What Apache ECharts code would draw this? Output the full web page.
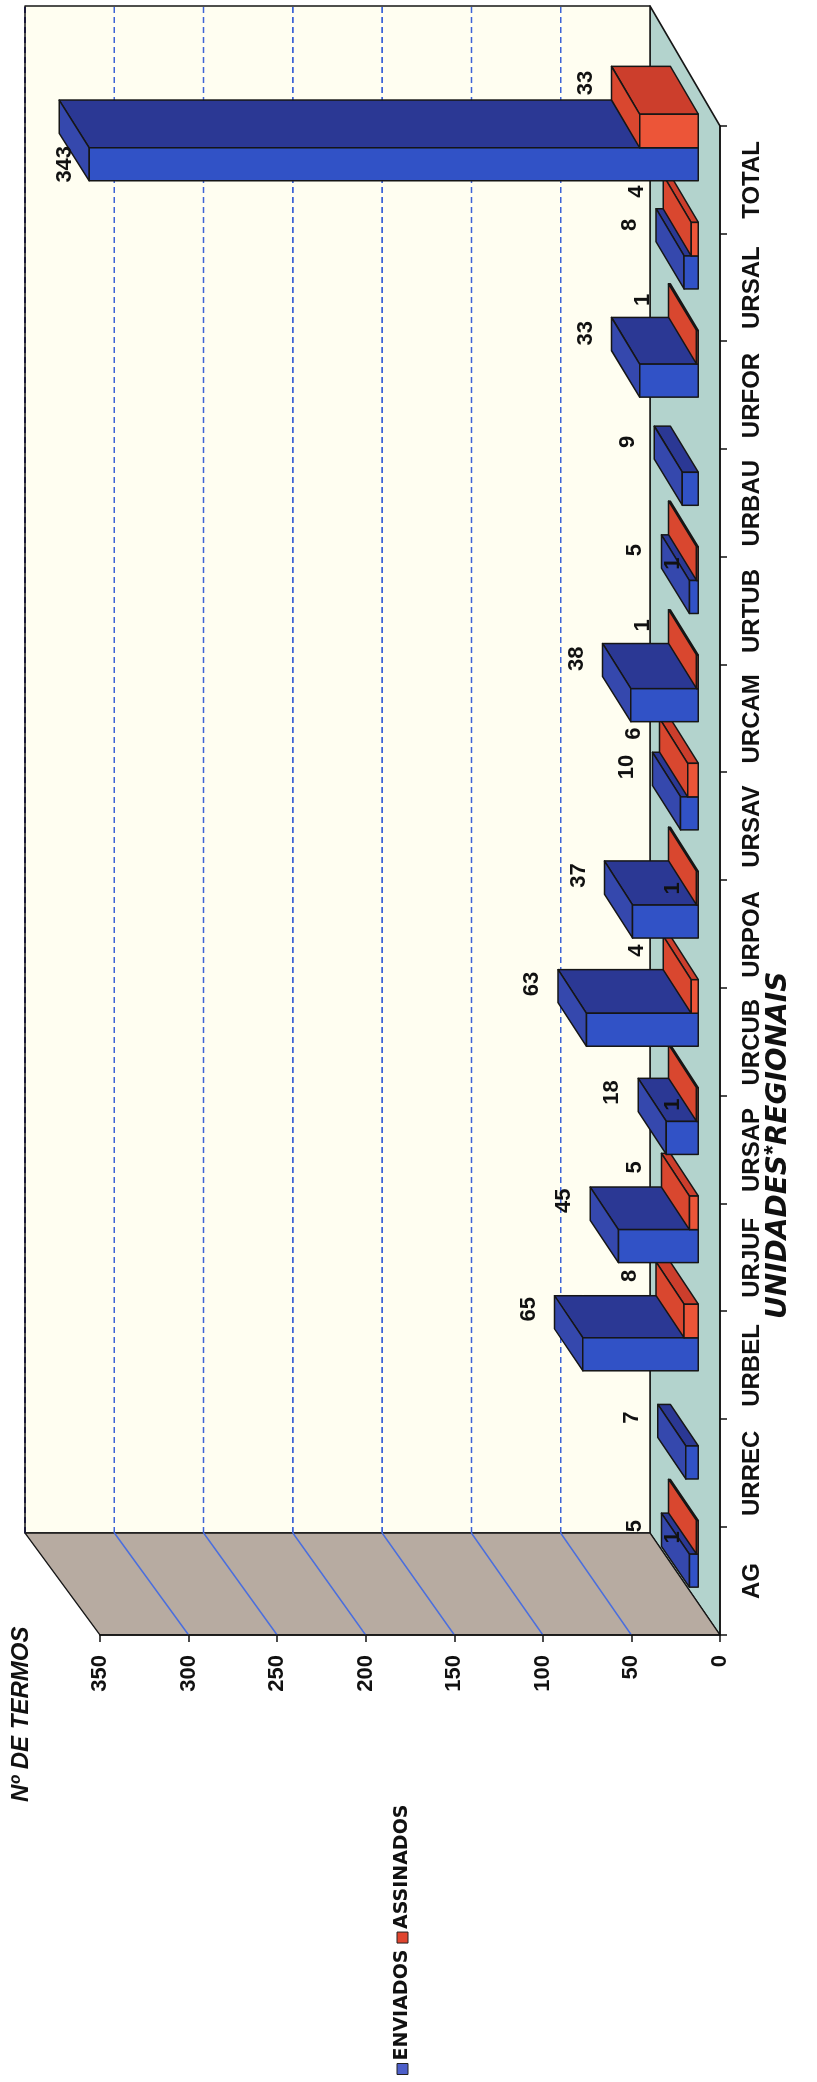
<!DOCTYPE html>
<html>
<head>
<meta charset="utf-8">
<script src="https://cdn.jsdelivr.net/npm/echarts@6.0.0/dist/echarts.min.js"></script>
<style>
  html, body { margin: 0; padding: 0; background: #ffffff; width: 817px; height: 2082px; overflow: hidden; }
  /* the chart is laid out landscape and turned a quarter turn counter-clockwise */
  #chart {
    position: absolute; left: 0; top: 0;
    width: 2082px; height: 817px;
    transform-origin: 0 0;
    transform: translate(0, 2082px) rotate(-90deg);
  }
</style>
</head>
<body>
<div id="chart"></div>
<script>
// ---- data ----
const CATEGORIES = ['AG', 'URREC', 'URBEL', 'URJUF', 'URSAP\n*', 'URCUB', 'URPOA',
                    'URSAV', 'URCAM', 'URTUB', 'URBAU', 'URFOR', 'URSAL', 'TOTAL'];
const ENVIADOS  = [5, 7, 65, 45, 18, 63, 37, 10, 38, 5, 9, 33, 8, 343];
const ASSINADOS = [1, null, 8, 5, 1, 4, 1, 6, 1, 1, null, 1, 4, 33];
const VALUE_TICKS = [0, 50, 100, 150, 200, 250, 300, 350];
const SERIES_NAMES = ['ENVIADOS', 'ASSINADOS'];
// units whose ASSINADOS label sits at the front edge of its bar
const FRONT_LABEL_UNITS = ['AG', 'URSAP\n*', 'URPOA', 'URTUB'];

// ---- 3D look ----
// back plane = front plane shifted by these offsets (slight perspective left→right, bottom→top)
const DEPTH = { dxLeft: 102, dxRight: 120, dyBottom: -70, dyTop: -75 };
const BAR_T1 = 0.31;          // depth of the bars' front faces
const BAR_T2 = 0.71;          // depth of the bars' back faces
const BAR_SLOTS = [0.15, 0.455, 0.765];   // band fractions: blue slot0..slot1, red slot1..slot2
const FACES = [
  { front: '#3152c6', top: '#3548ad', side: '#2b3894' },
  { front: '#ec5538', top: '#d9472f', side: '#cc3e2c' }
];
const EDGE = '#161616';
const FONT = '"Liberation Sans", Arial, sans-serif';
const WIDE_FONT = '"DejaVu Sans", Verdana, sans-serif';

function project(cs, x, y, t) {
  const fx = (x - cs.x) / cs.width;
  const fy = (cs.y + cs.height - y) / cs.height;
  const dx = DEPTH.dxLeft + (DEPTH.dxRight - DEPTH.dxLeft) * fx;
  const dy = DEPTH.dyBottom + (DEPTH.dyTop - DEPTH.dyBottom) * fy;
  return [x + t * dx, y + t * dy];
}

function poly(points, fill, z2, stroke, lineWidth) {
  return {
    type: 'polygon', z2: z2,
    shape: { points: points },
    style: { fill: fill, stroke: stroke || EDGE, lineWidth: lineWidth == null ? 1.5 : lineWidth,
             lineJoin: 'round' }
  };
}
function line(p, q, stroke, width, dash, z2) {
  return {
    type: 'line', z2: z2 || 5,
    shape: { x1: p[0], y1: p[1], x2: q[0], y2: q[1] },
    style: { stroke: stroke, lineWidth: width, lineDash: dash || null }
  };
}

// walls, floor and their gridlines
function renderWalls(params, api) {
  const cs = params.coordSys;
  const L = cs.x, R = cs.x + cs.width;
  const B = api.coord([0, VALUE_TICKS[0]])[1];
  const T = api.coord([0, VALUE_TICKS[VALUE_TICKS.length - 1]])[1];
  const back = (x, y) => project(cs, x, y, 1);
  const children = [];
  children.push(poly([[L, B], [R, B], back(R, B), back(L, B)], '#b3d3cd', 1));          // floor
  children.push(poly([back(L, T), back(R, T), back(R, B), back(L, B)], '#fffef1', 1));  // back wall
  children.push(poly([[L, B], [L, T], back(L, T), back(L, B)], '#b7aba1', 2));           // side wall
  VALUE_TICKS.forEach(function (v) {
    if (v === VALUE_TICKS[0]) return;
    const y = api.coord([0, v])[1];
    const last = v === VALUE_TICKS[VALUE_TICKS.length - 1];
    children.push(line(back(L, y), back(R, y), last ? '#1b1b3a' : '#3d63d6', last ? 2 : 1.6, [6, 4], 4));
    if (!last) children.push(line([L, y], back(L, y), '#4a6ede', 1.6, null, 4));
  });
  return { type: 'group', children: children };
}

function barSeries(k, values) {
  return {
    type: 'custom',
    name: SERIES_NAMES[k],
    coordinateSystem: 'cartesian2d',
    z: 3,
    itemStyle: { color: k === 0 ? '#4d5fc9' : '#e0452f', borderColor: '#222', borderWidth: 1 },
    encode: { x: 0, y: 1 },
    data: values.map(function (v, i) { return [i, v == null ? '-' : v]; }),
    renderItem: function (params, api) {
      const v = api.value(1);
      if (v == null || isNaN(v)) return null;
      const cs = params.coordSys;
      const i = api.value(0);
      const base = api.coord([i, 0]);
      const top = api.coord([i, v]);
      const bw = api.size([1, 0])[0];
      const xl = base[0] - bw / 2 + BAR_SLOTS[k] * bw;
      const xr = base[0] - bw / 2 + BAR_SLOTS[k + 1] * bw;
      const xc = (xl + xr) / 2;
      const yb = base[1], yt = top[1];
      const P = (x, y, t) => project(cs, x, y, t);
      const z = i * 10 + k * 4;
      const f = FACES[k];

      // value label: above the top face; beside the front edge when it would leave the wall
      const mid = P(xc, yt, (BAR_T1 + BAR_T2) / 2);
      let lx = mid[0] + 24, ly = mid[1] - 40;
      const wallTop = P(xc, cs.y, 1)[1];
      const atFront = (k === 1 && FRONT_LABEL_UNITS.indexOf(CATEGORIES[i]) >= 0) || ly - 11 < wallTop;
      if (atFront) {
        const fr = P(xc, yt, BAR_T1);
        lx = fr[0]; ly = fr[1] - 24;
      }
      return {
        type: 'group',
        children: [
          poly([P(xr, yb, BAR_T1), P(xr, yb, BAR_T2), P(xr, yt, BAR_T2), P(xr, yt, BAR_T1)], f.side, z + 1),
          poly([P(xl, yt, BAR_T1), P(xr, yt, BAR_T1), P(xr, yt, BAR_T2), P(xl, yt, BAR_T2)], f.top, z + 2),
          poly([P(xl, yb, BAR_T1), P(xr, yb, BAR_T1), P(xr, yt, BAR_T1), P(xl, yt, BAR_T1)], f.front, z + 3),
          {
            type: 'text', z2: 1000,
            x: lx, y: ly,
            style: { text: String(v), align: 'center', verticalAlign: 'middle',
                     font: 'bold 22px ' + FONT, fill: '#111111' }
          }
        ]
      };
    }
  };
}

const chart = echarts.init(document.getElementById('chart'), null, { width: 2082, height: 817 });

chart.setOption({
  backgroundColor: '#ffffff',
  animation: false,
  grid: { left: 447, top: 100, width: 1509, height: 620, containLabel: false },
  legend: {
    data: SERIES_NAMES,
    left: 2, top: 388,
    icon: 'rect', itemWidth: 11, itemHeight: 11, itemGap: 6,
    textStyle: { fontFamily: WIDE_FONT, fontWeight: 'bold', fontSize: 19, color: '#111', padding: [0, 0, 0, -2] },
    itemStyle: { borderColor: '#222', borderWidth: 1 }
  },
  graphic: [
    {
      type: 'text', left: 280, top: 9,
      style: { text: 'Nº DE TERMOS', font: 'italic bold 24px ' + FONT, fill: '#111' }
    },
    {
      type: 'text', x: 763, y: 779,
      style: { text: 'UNIDADES REGIONAIS', font: 'italic bold 28px ' + WIDE_FONT, fill: '#111',
               align: 'left', verticalAlign: 'middle' }
    }
  ],
  xAxis: {
    type: 'category',
    data: CATEGORIES,
    z: 6,
    axisLine: { lineStyle: { color: '#111', width: 1.5 } },
    axisTick: { show: true, length: 7, lineStyle: { color: '#111', width: 1.5 } },
    axisLabel: { interval: 0, margin: 21, fontFamily: FONT, fontWeight: 'bold', fontSize: 24,
                 color: '#111', lineHeight: 22 },
    splitLine: { show: false }
  },
  yAxis: {
    type: 'value',
    min: 0, max: 350, interval: 50,
    z: 6,
    axisLine: { show: true, lineStyle: { color: '#111', width: 1.5 } },
    axisTick: { show: true, length: 7, lineStyle: { color: '#111', width: 1.5 } },
    axisLabel: { margin: 20, fontFamily: FONT, fontWeight: 'bold', fontSize: 22, color: '#111' },
    splitLine: { show: false }
  },
  series: [
    {
      type: 'custom',
      name: 'walls',
      coordinateSystem: 'cartesian2d',
      z: 1,
      silent: true,
      encode: { x: 0, y: 1 },
      data: [[0, 0]],
      renderItem: renderWalls
    },
    barSeries(0, ENVIADOS),
    barSeries(1, ASSINADOS)
  ]
});
</script>
</body>
</html>
